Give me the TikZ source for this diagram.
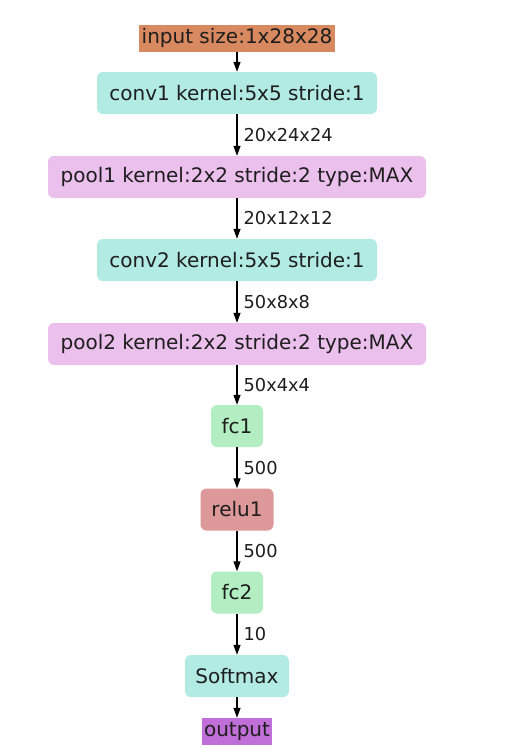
\documentclass[tikz,border=0pt]{standalone}
\usepackage{fontspec}
\setmainfont{DejaVu Sans}
\usetikzlibrary{arrows.meta}
\definecolor{cin}{RGB}{216,137,95}
\definecolor{cconv}{RGB}{178,235,228}
\definecolor{cpool}{RGB}{235,192,236}
\definecolor{cfc}{RGB}{178,238,194}
\definecolor{crelu}{RGB}{221,153,153}
\definecolor{cout}{RGB}{192,110,216}
\definecolor{ctext}{RGB}{30,30,30}
\tikzset{
  lay/.style={rounded corners=6pt, inner sep=0pt, minimum height=42pt, font=\fontsize{20pt}{22pt}\selectfont, text=ctext},
  sq/.style={inner sep=0pt, minimum height=27pt, font=\fontsize{20pt}{22pt}\selectfont, text=ctext},
  conn/.style={-{Triangle[length=10pt,width=7pt]}, line width=1.3pt, black},
  elab/.style={right, font=\fontsize{17.8pt}{20pt}\selectfont, text=ctext, inner sep=0pt, xshift=6pt},
}
\begin{document}
\begin{tikzpicture}[x=1pt,y=-1pt]
\useasboundingbox (0,0) rectangle (510,756);
\fill[white] (0,0) rectangle (510,756);
\node[sq, fill=cin, minimum width=196pt] (in) at (237,38) {input size:1x28x28};
\node[lay, fill=cconv, minimum width=280pt] (c1) at (237,93) {conv1 kernel:5x5 stride:1};
\node[lay, fill=cpool, minimum width=378pt] (p1) at (237,177) {pool1 kernel:2x2 stride:2 type:MAX};
\node[lay, fill=cconv, minimum width=280pt] (c2) at (237,260) {conv2 kernel:5x5 stride:1};
\node[lay, fill=cpool, minimum width=378pt] (p2) at (237,344) {pool2 kernel:2x2 stride:2 type:MAX};
\node[lay, fill=cfc, minimum width=52pt] (f1) at (237,426) {fc1};
\node[lay, fill=crelu, minimum width=73pt] (r1) at (237,509.5) {relu1};
\node[lay, fill=cfc, minimum width=52pt] (f2) at (237,592.5) {fc2};
\node[lay, fill=cconv, minimum width=104pt] (sm) at (237,676) {Softmax};
\node[sq, fill=cout, minimum width=70pt] (out) at (237,731.5) {output};
\draw[conn] (in) -- (c1);
\draw[conn] (c1) -- node[elab] {20x24x24} (p1);
\draw[conn] (p1) -- node[elab] {20x12x12} (c2);
\draw[conn] (c2) -- node[elab] {50x8x8} (p2);
\draw[conn] (p2) -- node[elab] {50x4x4} (f1);
\draw[conn] (f1) -- node[elab] {500} (r1);
\draw[conn] (r1) -- node[elab] {500} (f2);
\draw[conn] (f2) -- node[elab] {10} (sm);
\draw[conn] (sm) -- (out);
\end{tikzpicture}
\end{document}
